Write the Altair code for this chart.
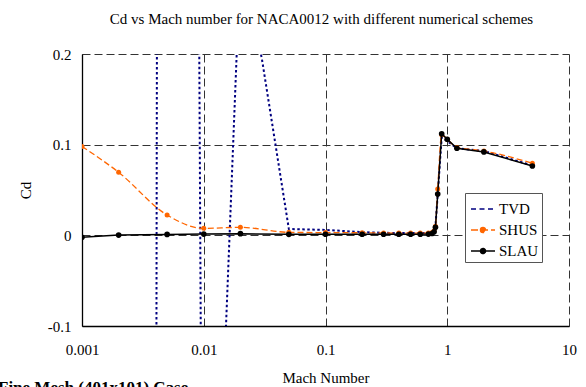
import altair as alt
import pandas as pd

# ---- data ----
series_names = ["TVD", "SHUS", "SLAU"]
series_colors = ["#000080", "#FF6600", "#000000"]

mach_tvd = [0.001, 0.002, 0.005, 0.01, 0.02, 0.03, 0.05, 0.1, 0.2, 0.3, 0.4, 0.5,
            0.6, 0.7, 0.75, 0.78, 0.8, 0.83, 0.9, 1.0, 1.2, 2.0, 5.0]
cd_tvd = [-10.0, -24.8, 6.86, -0.724, 0.304, 0.195, 0.007, 0.006, 0.0035, 0.0028, 0.0025, 0.0025,
          0.0025, 0.0025, 0.003, 0.005, 0.01, 0.04, 0.108, 0.104, 0.096, 0.093, 0.077]

mach_shus = [0.001, 0.002, 0.005, 0.01, 0.02, 0.05, 0.1, 0.2, 0.3, 0.4, 0.5,
             0.6, 0.7, 0.75, 0.78, 0.8, 0.835, 0.9, 1.0, 1.2, 2.0, 5.0]
cd_shus = [0.098, 0.0695, 0.0224, 0.0077, 0.0088, 0.0033, 0.003, 0.0028, 0.0026, 0.0025, 0.0025,
           0.0025, 0.0026, 0.003, 0.005, 0.01, 0.051, 0.111, 0.106, 0.097, 0.093, 0.0795]

mach_slau = [0.001, 0.002, 0.005, 0.01, 0.02, 0.05, 0.1, 0.2, 0.3, 0.4, 0.5,
             0.6, 0.7, 0.75, 0.78, 0.8, 0.835, 0.9, 1.0, 1.2, 2.0, 5.0]
cd_slau = [-0.0022, 0.0003, 0.001, 0.0014, 0.0018, 0.0011, 0.0012, 0.0012, 0.0012, 0.0012, 0.0012,
           0.0012, 0.0014, 0.002, 0.004, 0.0088, 0.0455, 0.112, 0.106, 0.096, 0.092, 0.0765]

x_ticks = [0.001, 0.01, 0.1, 1, 10]
y_ticks = [-0.1, 0, 0.1, 0.2]

chart_title = "Cd vs Mach number for NACA0012 with different numerical schemes"
x_title = "Mach Number"
y_title = "Cd"
caption = ["Fine Mesh (401x101) Case"]

FONT = "Liberation Serif"

rows = []
for s, ms, cs in [("TVD", mach_tvd, cd_tvd), ("SHUS", mach_shus, cd_shus), ("SLAU", mach_slau, cd_slau)]:
    for m, c in zip(ms, cs):
        rows.append({"series": s, "mach": m, "cd": c})
df = pd.DataFrame(rows)

x_enc = alt.X("mach:Q",
              scale=alt.Scale(type="log", domain=[0.001, 10], nice=False),
              axis=alt.Axis(values=x_ticks, labelExpr="toString(datum.value)", ticks=False,
                            domainColor="#000000", domainWidth=1.3,
                            grid=True, gridDash=[8, 4], gridColor="#333333", gridWidth=1,
                            labelFont=FONT, labelFontSize=15, labelColor="#000000",
                            labelPadding=16, labelFlush=False, labelOverlap=False, labelBound=False,
                            title=x_title, titleFont=FONT, titleFontSize=15, titleFontWeight="normal",
                            titleColor="#000000", titleX=243.5, titleY=56, titleBaseline="alphabetic",
                            titleAlign="center"))
y_enc = alt.Y("cd:Q",
              scale=alt.Scale(domain=[-0.1, 0.2], nice=False, zero=False),
              axis=alt.Axis(values=y_ticks, labelExpr="toString(datum.value)", ticks=False,
                            domainColor="#000000", domainWidth=1.3,
                            grid=True, gridDash=[8, 4], gridColor="#333333", gridWidth=1,
                            labelFont=FONT, labelFontSize=15, labelColor="#000000",
                            labelPadding=11, labelFlush=False, labelOverlap=False, labelBound=False,
                            title=y_title, titleFont=FONT, titleFontSize=15, titleFontWeight="normal",
                            titleColor="#000000", titleX=-57, titleY=136, titleAngle=270,
                            titleBaseline="middle", titleAlign="center"))

base = alt.Chart(df)

tvd_line = base.transform_filter(alt.datum.series == "TVD").mark_line(
    color="#000080", strokeWidth=2, strokeDash=[2.5, 2.5], clip=True
).encode(x=x_enc, y=y_enc, order="mach:Q")

shus_line = base.transform_filter(alt.datum.series == "SHUS").mark_line(
    color="#FF6600", strokeWidth=1.3, strokeDash=[6, 3], interpolate="monotone", clip=True
).encode(x=x_enc, y=y_enc, order="mach:Q")
shus_pts = base.transform_filter(alt.datum.series == "SHUS").mark_circle(
    color="#FF6600", size=25, opacity=1, clip=True
).encode(x=x_enc, y=y_enc)

slau_line = base.transform_filter(alt.datum.series == "SLAU").mark_line(
    color="#000000", strokeWidth=1.5, clip=True
).encode(x=x_enc, y=y_enc, order="mach:Q")
slau_pts = base.transform_filter(alt.datum.series == "SLAU").mark_circle(
    color="#000000", size=32, opacity=1, clip=True
).encode(x=x_enc, y=y_enc)

# legend-only layer (no data drawn)
line_only = "M-1,0L1,0"
line_dot = "M-1,0L1,0M-0.2,0A0.2,0.2,0,1,1,0.2,0A0.2,0.2,0,1,1,-0.2,0Z"
legend_layer = base.transform_filter("false").mark_point(filled=False, strokeWidth=1.5, opacity=1).encode(
    x=x_enc, y=y_enc,
    color=alt.Color("series:N", scale=alt.Scale(domain=series_names, range=series_colors),
                    legend=alt.Legend(title=None, orient="none", legendX=383, legendY=139,
                                      padding=3, strokeColor="#555555", fillColor="#FFFFFF",
                                      symbolSize=576, symbolStrokeWidth=1.7, symbolOffset=2,
                                      symbolOpacity=1,
                                      labelFont=FONT, labelFontSize=15, labelColor="#000000",
                                      labelOffset=3, rowPadding=0)),
    fill=alt.Fill("series:N", scale=alt.Scale(domain=series_names, range=["transparent", "#FF6600", "#000000"])),
    shape=alt.Shape("series:N", scale=alt.Scale(domain=series_names, range=[line_only, line_dot, line_dot])),
    strokeDash=alt.StrokeDash("series:N", scale=alt.Scale(domain=series_names,
                                                          range=[[5, 3.5], [7, 3], [1, 0]])),
)

cap_df = pd.DataFrame({"t": caption})
caption_layer = alt.Chart(cap_df).mark_text(
    font=FONT, fontSize=17, fontWeight="bold", align="left", baseline="alphabetic", color="#000000"
).encode(text="t:N", x=alt.value(-84), y=alt.value(339))

chart = alt.layer(
    tvd_line, shus_line, shus_pts, slau_line, slau_pts, legend_layer, caption_layer
).properties(
    width=487, height=272,
    autosize=alt.AutoSizeParams(type="none"),
    padding={"left": 82, "top": 54, "right": 17, "bottom": 61},
    title=alt.TitleParams(chart_title, font=FONT, fontSize=15, fontWeight="normal",
                          color="#000000", anchor="middle", frame="group",
                          baseline="alphabetic", offset=8, dx=-4),
    background="#FFFFFF",
).configure_view(stroke=None)

chart.save("out.html", embed_options={"renderer": "svg", "actions": False})
